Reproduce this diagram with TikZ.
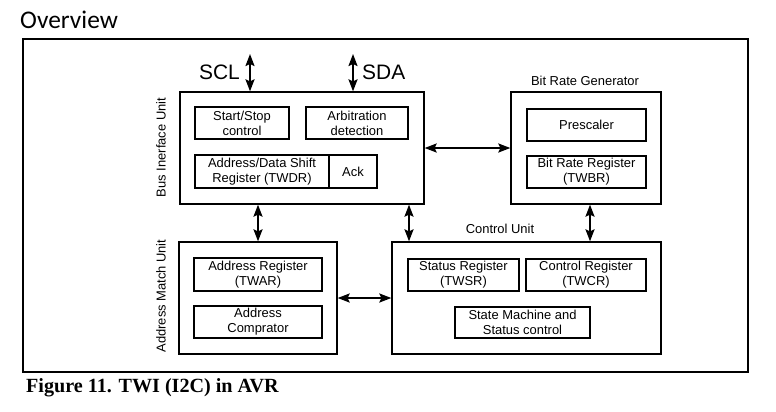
\documentclass[tikz,border=0pt]{standalone}
\usepackage{fontspec}
\setmainfont{Liberation Sans}
\newfontfamily\ovfont{Carlito}
\newfontfamily\capfont{Liberation Serif}
\usetikzlibrary{arrows.meta}
\tikzset{
  box/.style={draw, line width=1.3bp, inner sep=0pt, align=center, font=\fontsize{13}{15}\selectfont},
  thickbox/.style={box, line width=2.8bp},
  lbl/.style={inner sep=0pt, font=\fontsize{13}{15}\selectfont},
  biarrow/.style={line width=1.8bp, {Stealth[length=12bp,width=9bp,inset=2bp]}-{Stealth[length=12bp,width=9bp,inset=2bp]}}
}
\begin{document}
\begin{tikzpicture}[x=1bp,y=-1bp]
\useasboundingbox (0,0) rectangle (776,411);
% title and caption
\node[anchor=base west, inner sep=0pt, font=\ovfont\fontsize{25.5}{28}\selectfont] (title) at (20,28) {Overview};
\node[anchor=base west, inner sep=0pt, font=\capfont\bfseries\fontsize{20.2}{22}\selectfont] (caption) at (26,392) {Figure 11. TWI (I2C) in AVR};
% outer frame
\node[draw, line width=1.9bp, minimum width=725bp, minimum height=333bp, inner sep=0pt] (frame) at (385.5,205.5) {};
% Bus interface unit
\node[box, minimum width=244bp, minimum height=112bp] (biu) at (302,148) {};
\node[box, minimum width=94bp, minimum height=32bp] (ss) at (242,123) {Start/Stop\\control};
\node[box, minimum width=102bp, minimum height=32bp] (arb) at (357,123) {Arbitration\\detection};
\node[thickbox, minimum width=134bp, minimum height=33bp] (twdr) at (262,171.5) {Address/Data Shift\\Register (TWDR)};
\node[box, minimum width=48bp, minimum height=33bp] (ack) at (353,171.5) {Ack};
\node[lbl, rotate=90] (biulbl) at (161,147.5) {Bus Inerface Unit};
% Bit rate generator
\node[box, minimum width=150bp, minimum height=112bp] (brg) at (586,148) {};
\node[box, minimum width=119bp, minimum height=32bp] (pre) at (586.5,125) {Prescaler};
\node[thickbox, minimum width=119bp, minimum height=32bp] (twbr) at (586.5,172) {Bit Rate Register\\(TWBR)};
\node[lbl] (brglbl) at (585,81) {Bit Rate Generator};
% Address match unit
\node[box, minimum width=158bp, minimum height=112bp] (amu) at (258,298) {};
\node[thickbox, minimum width=128bp, minimum height=33bp] (twar) at (258,274.5) {Address Register\\(TWAR)};
\node[box, minimum width=128bp, minimum height=32bp] (cmp) at (258,322) {Address\\Comprator};
\node[lbl, rotate=90] (amulbl) at (161,296) {Address Match Unit};
% Control unit
\node[box, minimum width=269bp, minimum height=112bp] (cu) at (526.5,298) {};
\node[thickbox, minimum width=111bp, minimum height=32bp] (twsr) at (463.5,275) {Status Register\\(TWSR)};
\node[thickbox, minimum width=120bp, minimum height=32bp] (twcr) at (586,275) {Control Register\\(TWCR)};
\node[box, minimum width=135bp, minimum height=31bp] (sm) at (522.5,322.5) {State Machine and\\Status control};
\node[lbl] (culbl) at (500,229) {Control Unit};
% bus lines
\coordinate (sclend) at (250,54);
\coordinate (sdaend) at (353,54);
\node[anchor=east, inner sep=0pt, font=\fontsize{21}{24}\selectfont] (scl) at (240,72) {SCL};
\node[anchor=west, inner sep=0pt, font=\fontsize{21}{24}\selectfont] (sda) at (362,72) {SDA};
\draw[biarrow] (sclend) -- (sclend |- biu.north);
\draw[biarrow] (sdaend) -- (sdaend |- biu.north);
% connectors
\coordinate (xa) at (409,0);
\coordinate (xb) at (590,0);
\draw[biarrow] (biu.east) -- (biu.east -| brg.west);
\draw[biarrow] (amu.north |- biu.south) -- (amu.north);
\draw[biarrow] (xa |- biu.south) -- (xa |- cu.north);
\draw[biarrow] (xb |- brg.south) -- (xb |- cu.north);
\draw[biarrow] (amu.east) -- (amu.east -| cu.west);
\end{tikzpicture}
\end{document}
